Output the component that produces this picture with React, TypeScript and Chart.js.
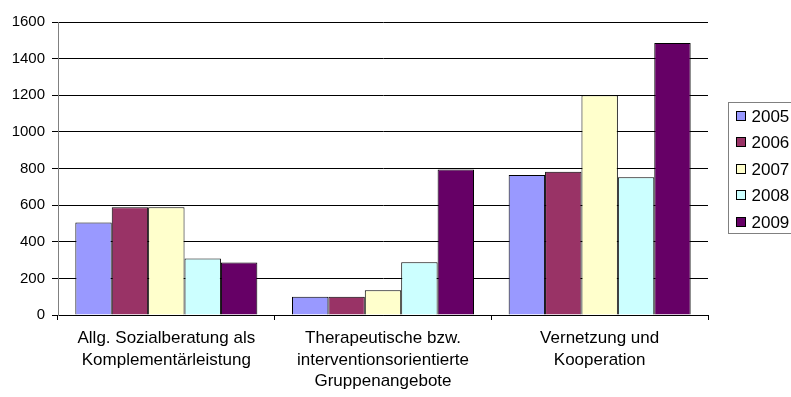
import { useEffect, useRef } from "react";
import { Chart, registerables } from "chart.js";

Chart.register(...registerables);

// Categories (multi-line tick labels)
const categories: string[][] = [
  ["Allg. Sozialberatung als", "Komplementärleistung"],
  ["Therapeutische bzw.", "interventionsorientierte", "Gruppenangebote"],
  ["Vernetzung und", "Kooperation"],
];

const years = ["2005", "2006", "2007", "2008", "2009"];

const values2005 = [505, 100, 765];
const values2006 = [588, 100, 782];
const values2007 = [588, 135, 1200];
const values2008 = [308, 288, 752];
const values2009 = [287, 795, 1485];

const seriesValues = [values2005, values2006, values2007, values2008, values2009];
const seriesColors = ["#9999FF", "#993366", "#FFFFCC", "#CCFFFF", "#660066"];

const yMax = 1600;
const yStep = 200;

const FONT = "'Liberation Sans', Arial, sans-serif";

// Boxed legend to the right of the plot area
const boxLegend = {
  id: "boxLegend",
  afterDraw(chart: any) {
    const { ctx, chartArea } = chart;
    const left = Math.round(chartArea.right + 20) + 0.5;
    const top = 102.5;
    const rowH = 26.4;
    const n = chart.data.datasets.length;
    const height = rowH * n - 1;
    ctx.save();
    ctx.lineWidth = 1;
    ctx.strokeStyle = "#808080";
    ctx.strokeRect(left, top, 80, height);
    ctx.font = `17px ${FONT}`;
    ctx.textBaseline = "middle";
    ctx.textAlign = "left";
    chart.data.datasets.forEach((ds: any, i: number) => {
      const cy = Math.round(top + 13.5 + i * rowH);
      const sx = left + 8;
      ctx.fillStyle = ds.backgroundColor;
      ctx.fillRect(sx, cy - 4.5, 9, 9);
      ctx.strokeStyle = "#000";
      ctx.strokeRect(sx, cy - 4.5, 9, 9);
      ctx.fillStyle = "#000";
      ctx.fillText(ds.label, left + 23, cy + 1);
    });
    ctx.restore();
  },
};

export default function App() {
  const canvasRef = useRef<HTMLCanvasElement | null>(null);

  useEffect(() => {
    if (!canvasRef.current) return;
    const chart = new Chart(canvasRef.current, {
      type: "bar",
      data: {
        labels: categories,
        datasets: years.map((year, i) => ({
          label: year,
          data: seriesValues[i],
          backgroundColor: seriesColors[i],
          borderColor: "#000",
          borderWidth: 1,
          categoryPercentage: 0.84,
          barPercentage: 1,
        })),
      },
      options: {
        animation: false,
        responsive: false,
        devicePixelRatio: 1,
        layout: { padding: { left: 0, top: 22, right: 83, bottom: 0 } },
        plugins: {
          legend: { display: false },
          tooltip: { enabled: false },
        },
        scales: {
          x: {
            offset: true,
            grid: {
              offset: true,
              drawOnChartArea: false,
              drawTicks: true,
              tickLength: 5,
              color: "#000",
            },
            border: { color: "#000" },
            ticks: {
              color: "#000",
              padding: 8,
              maxRotation: 0,
              autoSkip: false,
              font: { family: FONT, size: 17, lineHeight: 1.25 },
            },
            afterFit(scale: any) {
              scale.height = 82;
            },
          },
          y: {
            min: 0,
            max: yMax,
            ticks: {
              stepSize: yStep,
              color: "#000",
              padding: 7,
              font: { family: FONT, size: 15 },
              callback: (value: any) => String(value),
            },
            grid: {
              color: "#000",
              tickLength: 6,
            },
            border: { color: "#808080" },
            afterFit(scale: any) {
              scale.width = 58;
            },
          },
        },
      },
      plugins: [boxLegend],
    });
    return () => chart.destroy();
  }, []);

  return (
    <div style={{ position: "fixed", left: 0, top: 0, width: 791, height: 397, background: "#fff" }}>
      <canvas ref={canvasRef} width={791} height={397} style={{ display: "block" }} />
    </div>
  );
}
